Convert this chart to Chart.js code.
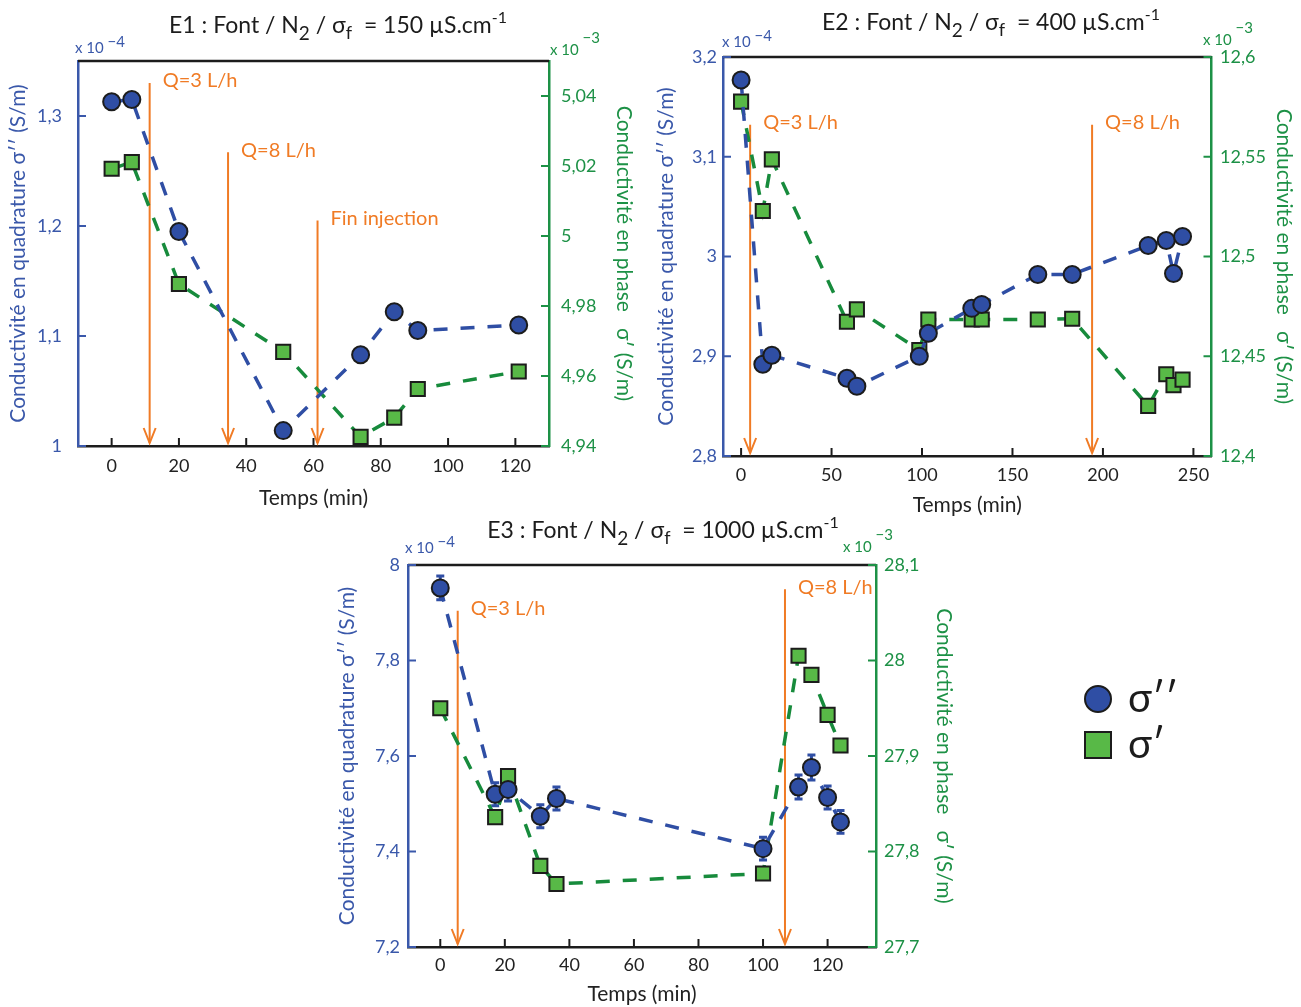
<!DOCTYPE html>
<html>
<head>
<meta charset="utf-8">
<script src="https://cdn.jsdelivr.net/npm/chart.js@4.4.1/dist/chart.umd.min.js"></script>
<style>
   body { margin: 0; background: #fff; width: 1301px; height: 1007px; position: relative; overflow: hidden; }
   canvas { position: absolute; }
</style>
</head>
<body>
<canvas id="c1" width="650" height="515" style="left:0;top:0"></canvas>
<canvas id="c2" width="651" height="520" style="left:650px;top:0"></canvas>
<canvas id="c3" width="971" height="502" style="left:330px;top:505px"></canvas>
<script>
/*=================================>> DATA  <<=================================*/

// E1 : 150 µS/cm
const e1Times = [0, 6, 20, 51, 74, 84, 91, 121];
const e1Quad = [1.313, 1.315, 1.195, 1.014, 1.083, 1.122, 1.105, 1.110];      // x 10^-4
const e1Phase = [5.0192, 5.0211, 4.9863, 4.9669, 4.9426, 4.9481, 4.9563, 4.9613]; // x 10^-3
const e1XTicks = [0, 20, 40, 60, 80, 100, 120];
const e1QuadTicks = [1, 1.1, 1.2, 1.3];
const e1PhaseTicks = [4.94, 4.96, 4.98, 5, 5.02, 5.04];
const e1ArrowTimes = [11.3, 34.6, 61.2];
const e1ArrowTops = [1.33, 1.267, 1.205];
const e1ArrowLabels = ["Q=3 L/h", "Q=8 L/h", "Fin injection"];

// E2 : 400 µS/cm
const e2Times = [0, 12, 17, 58.5, 64, 98.5, 103.5, 127.5, 133, 164, 183, 225, 235, 239, 244];
const e2Quad = [3.177, 2.892, 2.901, 2.878, 2.870, 2.900, 2.923, 2.948, 2.952, 2.982, 2.982, 3.011, 3.016, 2.983, 3.020];
const e2Phase = [12.5776, 12.5228, 12.5487, 12.4673, 12.4735, 12.4531, 12.4684, 12.4684, 12.4684, 12.4684, 12.4688, 12.4251, 12.441, 12.4355, 12.4383];
const e2XTicks = [0, 50, 100, 150, 200, 250];
const e2QuadTicks = [2.8, 2.9, 3, 3.1, 3.2];
const e2PhaseTicks = [12.4, 12.45, 12.5, 12.55, 12.6];
const e2ArrowTimes = [5, 194];
const e2ArrowTops = [3.132, 3.132];
const e2ArrowLabels = ["Q=3 L/h", "Q=8 L/h"];

// E3 : 1000 µS/cm
const e3Times = [0, 17, 21, 31, 36, 100, 111, 115, 120, 124];
const e3Quad = [7.952, 7.520, 7.530, 7.474, 7.511, 7.406, 7.535, 7.576, 7.513, 7.462];
const e3QuadErr = [0.025, 0.024, 0.024, 0.024, 0.024, 0.024, 0.025, 0.026, 0.024, 0.024];
const e3Phase = [27.950, 27.836, 27.879, 27.785, 27.766, 27.777, 28.005, 27.985, 27.943, 27.911];
const e3XTicks = [0, 20, 40, 60, 80, 100, 120];
const e3QuadTicks = [7.2, 7.4, 7.6, 7.8, 8];
const e3PhaseTicks = [27.7, 27.8, 27.9, 28, 28.1];
const e3ArrowTimes = [5.4, 106.8];
const e3ArrowTops = [7.904, 7.949];
const e3ArrowLabels = ["Q=3 L/h", "Q=8 L/h"];

/*=================================>> STYLE  <<=================================*/

const FONT = 'Lato, "DejaVu Sans", sans-serif';
const BLUE = "#3a58aa";
const BLUE_FILL = "#2f4ea4";
const GREEN = "#1d9146";
const GREEN_FILL = "#58b947";
const ORANGE = "#f07b25";
const INK = "#1c1c1c";

const quadTitle = "Conductivité en quadrature σ′′ (S/m)";
const phaseTitle = "Conductivité en phase   σ′ (S/m)";

function fmt(v) {
   return String(Math.round(v * 1000) / 1000).replace(".", ",");
}

function drawRich(ctx, parts, x, y, align) {
   let w = 0;
   parts.forEach(p => {
      ctx.font = p.size + "px " + FONT;
      w += ctx.measureText(p.text).width;
   });
   let cx = align === "center" ? x - w / 2 : x;
   ctx.textAlign = "left";
   ctx.textBaseline = "alphabetic";
   parts.forEach(p => {
      ctx.font = p.size + "px " + FONT;
      ctx.fillText(p.text, cx, y + (p.dy || 0));
      cx += ctx.measureText(p.text).width;
   });
}

function titleParts(name, value) {
   return [
      { text: name + " : Font / N", size: 23 },
      { text: "2", size: 19, dy: 7 },
      { text: " / σ", size: 23 },
      { text: "f", size: 18, dy: 6 },
      { text: "  = " + value + " µS.cm", size: 23 },
      { text: "-1", size: 16, dy: -10 },
   ];
}

function expParts(exp, raise) {
   return [
      { text: "x 10", size: 15 },
      { text: " −" + exp, size: 15, dy: -raise },
   ];
}

function yAxis(pos, g, ticks, color, title) {
   const left = pos === "left";
   return {
      type: "linear",
      position: pos,
      min: left ? g.yMin : g.y1Min,
      max: left ? g.yMax : g.y1Max,
      afterBuildTicks: s => { s.ticks = ticks.map(v => ({ value: v })); },
      afterFit: s => { s.width = left ? g.yW : g.y1W; },
      grid: { display: false, drawTicks: false },
      border: { display: true, color: color, width: 2.5 },
      ticks: {
         color: color,
         padding: left ? g.yPad : g.y1Pad,
         font: { family: FONT, size: 18 },
         callback: v => fmt(v),
      },
      title: {
         display: true,
         text: title,
         color: color,
         font: { family: FONT, size: 21 },
         padding: { top: left ? g.yTitlePad : g.y1TitlePad, bottom: 0 },
      },
   };
}

function makeChart(id, g) {
   const figPlugin = {
      id: "fig_" + id,
      beforeDatasetsDraw(chart) {
         const { ctx, chartArea: a, scales } = chart;
         ctx.save();
         // orange arrows + labels
         ctx.strokeStyle = ORANGE;
         ctx.fillStyle = ORANGE;
         ctx.lineWidth = 2;
         ctx.font = "20px " + FONT;
         ctx.textAlign = "left";
         ctx.textBaseline = "middle";
         g.arrowTimes.forEach((t, i) => {
            const x = scales.x.getPixelForValue(t);
            const y0 = scales.y.getPixelForValue(g.arrowTops[i]);
            const y1 = a.bottom - 3;
            ctx.beginPath();
            ctx.moveTo(x, y0);
            ctx.lineTo(x, y1);
            ctx.stroke();
            ctx.beginPath();
            ctx.moveTo(x - 6, y1 - 15);
            ctx.lineTo(x, y1);
            ctx.lineTo(x + 6, y1 - 15);
            ctx.stroke();
            ctx.fillText(g.arrowLabels[i], x + 13, y0 - 2);
         });
         // error bars on sigma''
         if (g.quadErr) {
            ctx.strokeStyle = BLUE_FILL;
            ctx.lineWidth = 3;
            g.times.forEach((t, i) => {
               const x = scales.x.getPixelForValue(t);
               const yl = scales.y.getPixelForValue(g.quad[i] - g.quadErr[i]);
               const yh = scales.y.getPixelForValue(g.quad[i] + g.quadErr[i]);
               ctx.beginPath();
               ctx.moveTo(x, yl); ctx.lineTo(x, yh);
               ctx.moveTo(x - 4, yl); ctx.lineTo(x + 4, yl);
               ctx.moveTo(x - 4, yh); ctx.lineTo(x + 4, yh);
               ctx.stroke();
            });
         }
         ctx.restore();
      },
      afterDraw(chart) {
         const { ctx, chartArea: a, scales } = chart;
         ctx.save();
         // top box line
         ctx.strokeStyle = INK;
         ctx.lineWidth = 2.5;
         ctx.beginPath();
         ctx.moveTo(a.left, a.top);
         ctx.lineTo(a.right, a.top);
         ctx.stroke();
         // inward ticks
         ctx.lineWidth = 2;
         scales.x.ticks.forEach(tk => {
            const p = scales.x.getPixelForValue(tk.value);
            ctx.beginPath(); ctx.moveTo(p, a.bottom); ctx.lineTo(p, a.bottom - 8); ctx.stroke();
         });
         ctx.strokeStyle = BLUE;
         scales.y.ticks.forEach(tk => {
            const p = scales.y.getPixelForValue(tk.value);
            ctx.beginPath(); ctx.moveTo(a.left, p); ctx.lineTo(a.left + 8, p); ctx.stroke();
         });
         ctx.strokeStyle = GREEN;
         scales.y1.ticks.forEach(tk => {
            const p = scales.y1.getPixelForValue(tk.value);
            ctx.beginPath(); ctx.moveTo(a.right, p); ctx.lineTo(a.right - 8, p); ctx.stroke();
         });
         // title + exponents
         ctx.fillStyle = INK;
         drawRich(ctx, g.title, g.titleX, g.titleY, "center");
         ctx.fillStyle = BLUE;
         drawRich(ctx, expParts(4, g.expRaise[0]), g.expBlue[0], g.expBlue[1], "left");
         ctx.fillStyle = GREEN;
         drawRich(ctx, expParts(3, g.expRaise[1]), g.expGreen[0], g.expGreen[1], "left");
         // legend
         if (g.legend) {
            const [lx, ly, step] = g.legend;
            chart.data.datasets.forEach((ds, i) => {
               const cy = ly + i * step;
               ctx.lineWidth = 2;
               ctx.strokeStyle = INK;
               ctx.fillStyle = ds.pointBackgroundColor;
               ctx.beginPath();
               if (ds.pointStyle === "circle") ctx.arc(lx, cy, 13, 0, Math.PI * 2);
               else ctx.rect(lx - 13, cy - 13, 26, 26);
               ctx.fill();
               ctx.stroke();
               ctx.fillStyle = INK;
               ctx.font = "40px " + FONT;
               ctx.textAlign = "left";
               ctx.textBaseline = "middle";
               ctx.fillText(ds.label, lx + 30, cy);
            });
         }
         ctx.restore();
      },
   };

   return new Chart(document.getElementById(id), {
      type: "scatter",
      data: {
         datasets: [
            {
               label: "σ′′",
               data: g.times.map((t, i) => ({ x: t, y: g.quad[i] })),
               yAxisID: "y",
               showLine: true,
               borderColor: BLUE_FILL,
               borderWidth: 3.5,
               borderDash: [14, 13],
               pointStyle: "circle",
               pointRadius: 8.5,
               pointBorderWidth: 2,
               pointBorderColor: INK,
               pointBackgroundColor: BLUE_FILL,
               clip: false,
            },
            {
               label: "σ′",
               data: g.times.map((t, i) => ({ x: t, y: g.phase[i] })),
               yAxisID: "y1",
               showLine: true,
               borderColor: "#178b3c",
               borderWidth: 3.5,
               borderDash: [14, 13],
               pointStyle: "rect",
               pointRadius: 10,
               pointBorderWidth: 2,
               pointBorderColor: INK,
               pointBackgroundColor: GREEN_FILL,
               clip: false,
            },
         ],
      },
      options: {
         responsive: false,
         animation: false,
         events: [],
         layout: { padding: { top: g.top, left: 0, right: g.padR || 0, bottom: 0 } },
         plugins: { legend: { display: false }, tooltip: { enabled: false } },
         scales: {
            x: {
               type: "linear",
               position: "bottom",
               min: g.xMin,
               max: g.xMax,
               afterBuildTicks: s => { s.ticks = g.xTicks.map(v => ({ value: v })); },
               afterFit: s => { s.height = g.xH; },
               grid: { display: false, drawTicks: false },
               border: { display: true, color: INK, width: 2.5 },
               ticks: { color: "#222", padding: g.xPad, font: { family: FONT, size: 18 }, callback: v => fmt(v) },
               title: {
                  display: true,
                  text: "Temps (min)",
                  color: "#222",
                  font: { family: FONT, size: 21 },
                  padding: { top: 0, bottom: g.xTitlePad },
               },
            },
            y: yAxis("left", g, g.quadTicks, BLUE, quadTitle),
            y1: yAxis("right", g, g.phaseTicks, GREEN, phaseTitle),
         },
      },
      plugins: [figPlugin],
   });
}

/*=================================>> CHARTS  <<=================================*/

makeChart("c1", {
   times: e1Times, quad: e1Quad, phase: e1Phase,
   xTicks: e1XTicks, quadTicks: e1QuadTicks, phaseTicks: e1PhaseTicks,
   arrowTimes: e1ArrowTimes, arrowTops: e1ArrowTops, arrowLabels: e1ArrowLabels,
   xMin: -10, xMax: 130, yMin: 1, yMax: 1.35, y1Min: 4.94, y1Max: 5.05,
   top: 61, yW: 78, y1W: 101, xH: 69,
   yPad: 16, y1Pad: 12, xPad: 9, xTitlePad: 4,
   yTitlePad: 6, y1TitlePad: 14,
   title: titleParts("E1", "150"), titleX: 338, titleY: 33,
   expBlue: [75, 53], expGreen: [550, 55], expRaise: [6, 12],
});

makeChart("c2", {
   times: e2Times, quad: e2Quad, phase: e2Phase,
   xTicks: e2XTicks, quadTicks: e2QuadTicks, phaseTicks: e2PhaseTicks,
   arrowTimes: e2ArrowTimes, arrowTops: e2ArrowTops, arrowLabels: e2ArrowLabels,
   xMin: -10, xMax: 260, yMin: 2.8, yMax: 3.2, y1Min: 12.4, y1Max: 12.6,
   top: 57, yW: 73, y1W: 89.5, xH: 64,
   yPad: 6, y1Pad: 8.5, xPad: 8, xTitlePad: 2,
   yTitlePad: 4, y1TitlePad: 5,
   title: titleParts("E2", "400"), titleX: 341, titleY: 30,
   expBlue: [72, 47], expGreen: [553, 45], expRaise: [6, 12],
});

makeChart("c3", {
   times: e3Times, quad: e3Quad, phase: e3Phase, quadErr: e3QuadErr,
   xTicks: e3XTicks, quadTicks: e3QuadTicks, phaseTicks: e3PhaseTicks,
   arrowTimes: e3ArrowTimes, arrowTops: e3ArrowTops, arrowLabels: e3ArrowLabels,
   xMin: -10, xMax: 135, yMin: 7.2, yMax: 8, y1Min: 27.7, y1Max: 28.1,
   top: 60, yW: 78, y1W: 80, xH: 60, padR: 345,
   yPad: 8, y1Pad: 8, xPad: 7.5, xTitlePad: 0,
   yTitlePad: 5, y1TitlePad: 0,
   title: titleParts("E3", "1000"), titleX: 333, titleY: 33,
   expBlue: [75, 48], expGreen: [513, 47], expRaise: [6, 12],
   legend: [768, 194, 46],
});
</script>
</body>
</html>
